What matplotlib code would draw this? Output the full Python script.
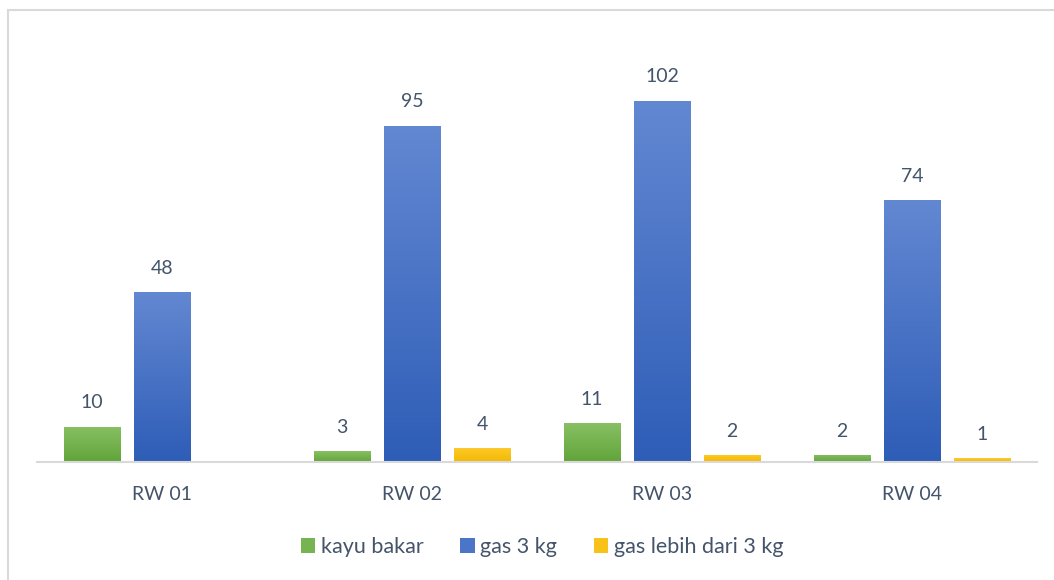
import numpy as np
import matplotlib.pyplot as plt
from matplotlib.colors import LinearSegmentedColormap
from matplotlib.patches import Rectangle

categories = ["RW 01", "RW 02", "RW 03", "RW 04"]
series_names = ["kayu bakar", "gas 3 kg", "gas lebih dari 3 kg"]
kayu_bakar = [10, 3, 11, 2]
gas_3kg = [48, 95, 102, 74]
gas_lebih = [None, 4, 2, 1]

# (top colour, bottom colour) for the Excel-like gradient fill
gradients = [("#88C063", "#61A43A"), ("#6388D2", "#2E5DB7"), ("#FFCB2E", "#F2B800")]
text_color = "#44546A"

plt.rcParams['font.family'] = ['Lato', 'DejaVu Sans']

W, H = 1054, 580
fig = plt.figure(figsize=(W / 100, H / 100), dpi=100)
# light gray chart border (runs off the right and bottom edges)
fig.patches.append(Rectangle((8 / W, -0.2), 1.2, 1.2 + (H - 10) / H - 1 + 0.0,
                             transform=fig.transFigure, fill=False,
                             edgecolor="#D9D9D9", linewidth=1.5))

ax_left, ax_right = 37, 1037
base_y, top_y = 462, 37
ax = fig.add_axes([ax_left / W, (H - base_y) / H, (ax_right - ax_left) / W, (base_y - top_y) / H])

x = np.arange(len(categories))
width = 0.228
offset = 0.28
all_series = [kayu_bakar, gas_3kg, gas_lebih]
for i, (vals, name, (ctop, cbot)) in enumerate(zip(all_series, series_names, gradients)):
    heights = [v if v is not None else 0 for v in vals]
    cmap = LinearSegmentedColormap.from_list("g%d" % i, [cbot, ctop])
    bars = ax.bar(x + (i - 1) * offset, heights, width, color=cmap(0.55), label=name,
                  linewidth=0, zorder=2)
    for bar, v in zip(bars, vals):
        if v is None:
            continue
        x0, y0 = bar.get_x(), bar.get_y()
        w, h = bar.get_width(), bar.get_height()
        grad = np.linspace(0, 1, 256).reshape(-1, 1)
        im = ax.imshow(grad, cmap=cmap, origin="lower", aspect="auto",
                       extent=(x0, x0 + w, y0, y0 + h), zorder=2.5)
        im.set_clip_path(bar)
        ax.annotate(str(v), (x0 + w / 2, y0 + h), xytext=(0, 11), textcoords="offset points",
                    ha="center", va="bottom", fontsize=14, color=text_color)

ax.set_xlim(-0.5, 3.5)
ax.set_ylim(0, 120)
for s in ["top", "right", "left"]:
    ax.spines[s].set_visible(False)
ax.spines["bottom"].set_color("#D9D9D9")
ax.spines["bottom"].set_linewidth(1.5)
ax.spines["bottom"].set_zorder(3)
ax.set_yticks([])
ax.set_xticks(x)
ax.set_xticklabels(categories, fontsize=14, color=text_color)
ax.tick_params(axis="x", length=0, pad=17)

leg = ax.legend(loc="center", bbox_to_anchor=(542 / W, 1 - 547 / H), bbox_transform=fig.transFigure,
                ncol=3, frameon=False, fontsize=15.5, handlelength=0.68, handleheight=0.68,
                handletextpad=0.25, columnspacing=1.7)
for t in leg.get_texts():
    t.set_color(text_color)

fig.savefig("out.png", dpi=100)
